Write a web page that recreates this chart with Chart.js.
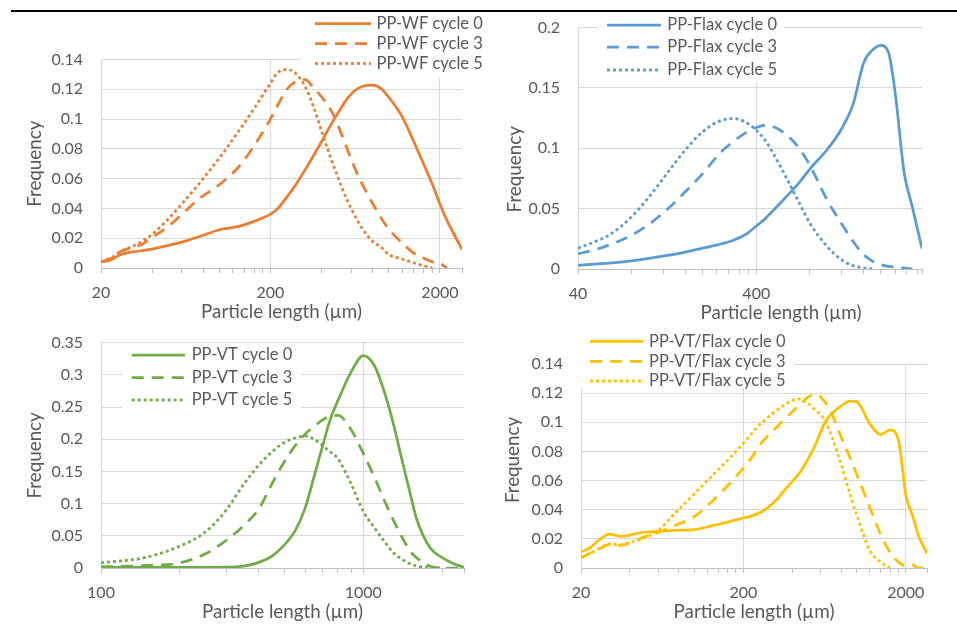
<!DOCTYPE html>
<html><head><meta charset="utf-8">
<script src="https://cdn.jsdelivr.net/npm/chart.js@4.4.1/dist/chart.umd.min.js"></script>
<style>
html,body{margin:0;padding:0;background:#fff;}
#wrap{position:relative;width:957px;height:624px;overflow:hidden;background:#fff;}
#wrap canvas{position:absolute;left:0;top:0;}
#rule{position:absolute;left:11px;top:10px;width:946px;height:2px;background:#000;z-index:5;}
</style></head><body>
<div id="wrap">
<canvas id="c1" width="957" height="624"></canvas>
<canvas id="c2" width="957" height="624"></canvas>
<canvas id="c3" width="957" height="624"></canvas>
<canvas id="c4" width="957" height="624"></canvas>
<div id="rule"></div>
</div>
<script>
// ---------- DATA ----------
const cycleNames = ['cycle 0', 'cycle 3', 'cycle 5'];

// PP-WF (top left)
const wfSizes  = [20, 23, 26, 30, 35, 40, 50, 60, 75, 100, 130, 160, 200, 220, 250, 280, 320, 360, 400, 450, 500, 560, 630, 700, 800, 900, 1000, 1200, 1400, 1600, 1800, 2000, 2200, 2400, 2700];
const wfCycle0 = [0.004, 0.0056, 0.0089, 0.0107, 0.0116, 0.0127, 0.0152, 0.0174, 0.0208, 0.0257, 0.0279, 0.0313, 0.0362, 0.0397, 0.0476, 0.0554, 0.0659, 0.0757, 0.0848, 0.0953, 0.104, 0.1127, 0.1192, 0.122, 0.1228, 0.1205, 0.1145, 0.1015, 0.085, 0.070, 0.0565, 0.043, 0.032, 0.0235, 0.0125];
const wfCycle3 = [0.004, 0.0065, 0.011, 0.0134, 0.016, 0.0205, 0.028, 0.036, 0.046, 0.056, 0.068, 0.082, 0.1, 0.109, 0.12, 0.125, 0.1265, 0.121, 0.115, 0.107, 0.096, 0.0815, 0.067, 0.0558, 0.0435, 0.0335, 0.026, 0.0167, 0.010, 0.0067, 0.0042, 0.003, 0, null, null];
const wfCycle5 = [0.004, 0.007, 0.011, 0.014, 0.018, 0.0225, 0.033, 0.043, 0.056, 0.074, 0.092, 0.107, 0.124, 0.131, 0.1333, 0.131, 0.122, 0.108, 0.092, 0.075, 0.061, 0.047, 0.035, 0.026, 0.018, 0.014, 0.009, 0.006, 0.0035, 0.0015, 0, null, null, null, null];

// PP-Flax (top right)
const flaxSizes  = [40, 50, 60, 80, 100, 130, 160, 200, 250, 300, 350, 400, 450, 500, 600, 700, 800, 1000, 1200, 1400, 1600, 1800, 2000, 2200, 2400, 2700, 3000, 3400];
const flaxCycle0 = [0.003, 0.0041, 0.0049, 0.0068, 0.0088, 0.0115, 0.014, 0.0173, 0.0205, 0.0241, 0.0288, 0.0356, 0.0419, 0.0488, 0.0611, 0.072, 0.083, 0.099, 0.1158, 0.137, 0.1707, 0.1816, 0.1852, 0.18, 0.147, 0.08, 0.0515, 0.017];
const flaxCycle3 = [0.0126, 0.016, 0.02, 0.028, 0.037, 0.051, 0.064, 0.079, 0.096, 0.106, 0.113, 0.1173, 0.119, 0.1178, 0.1104, 0.0995, 0.0858, 0.057, 0.0378, 0.0227, 0.0118, 0.0063, 0.0036, 0.0022, 0.0016, 0.0008, 0, null];
const flaxCycle5 = [0.0173, 0.0227, 0.0282, 0.0433, 0.0597, 0.0816, 0.0986, 0.1137, 0.1227, 0.1247, 0.1214, 0.115, 0.1063, 0.0953, 0.0734, 0.0542, 0.0378, 0.0186, 0.0077, 0.0027, 0.0008, 0, null, null, null, null, null, null];

// PP-VT (bottom left)
const vtSizes  = [100, 120, 150, 200, 250, 300, 350, 400, 450, 500, 550, 600, 650, 700, 750, 800, 900, 1000, 1100, 1200, 1300, 1400, 1500, 1600, 1800, 2000, 2200, 2420];
const vtCycle0 = [0.001, 0.001, 0.001, 0.001, 0.001, 0.0013, 0.003, 0.0088, 0.019, 0.036, 0.058, 0.093, 0.143, 0.19, 0.232, 0.26, 0.305, 0.33, 0.315, 0.275, 0.225, 0.17, 0.12, 0.075, 0.031, 0.016, 0.007, 0.001];
const vtCycle3 = [0.002, 0.0025, 0.004, 0.008, 0.022, 0.043, 0.066, 0.092, 0.132, 0.165, 0.19, 0.208, 0.22, 0.23, 0.236, 0.237, 0.2145, 0.178, 0.142, 0.106, 0.075, 0.049, 0.028, 0.0155, 0.0026, 0, 0, 0];
const vtCycle5 = [0.0085, 0.011, 0.017, 0.034, 0.056, 0.09, 0.13, 0.16, 0.181, 0.195, 0.202, 0.205, 0.2, 0.19, 0.18, 0.17, 0.13, 0.088, 0.063, 0.042, 0.024, 0.014, 0.007, 0.003, 0.0005, 0, null, null];

// PP-VT/Flax (bottom right)
const vfSizes  = [20, 23, 26, 30, 35, 40, 50, 60, 75, 100, 130, 160, 200, 220, 250, 280, 320, 360, 400, 450, 500, 560, 630, 700, 800, 900, 1000, 1200, 1400, 1600, 1800, 2000, 2200, 2400, 2700];
const vfCycle0 = [0.011, 0.0144, 0.0194, 0.0233, 0.0217, 0.0226, 0.0247, 0.0251, 0.0258, 0.0263, 0.0292, 0.0315, 0.0343, 0.0354, 0.0377, 0.0411, 0.0468, 0.0537, 0.0594, 0.0662, 0.0747, 0.0856, 0.099, 0.106, 0.1112, 0.1146, 0.114, 0.099, 0.0915, 0.0948, 0.088, 0.05, 0.036, 0.022, 0.01];
const vfCycle3 = [0.0069, 0.0103, 0.0132, 0.016, 0.0155, 0.0171, 0.0217, 0.0244, 0.029, 0.0354, 0.0464, 0.0564, 0.0685, 0.0742, 0.0838, 0.0902, 0.0966, 0.1023, 0.1073, 0.1126, 0.1172, 0.1194, 0.1145, 0.106, 0.0898, 0.0766, 0.064, 0.0415, 0.023, 0.0108, 0.004, 0.0015, 0.002, 0, 0];
const vfCycle5 = [0.0075, 0.0103, 0.0135, 0.0165, 0.016, 0.0175, 0.021, 0.026, 0.037, 0.051, 0.064, 0.074, 0.0856, 0.091, 0.098, 0.103, 0.108, 0.112, 0.115, 0.116, 0.113, 0.108, 0.102, 0.0904, 0.071, 0.052, 0.036, 0.012, 0.004, 0, null, null, null, null, null];

// axis tick labels (major decades shown)
const wfMajorTicks   = [20, 200, 2000];
const flaxMajorTicks = [40, 400];
const vtMajorTicks   = [100, 1000];
const vfMajorTicks   = [20, 200, 2000];

// ---------- STYLE ----------
const TEXT = '#595959';
const FONT = {family: 'Lato', size: 16};
const TITLE_FONT = {family: 'Lato', size: 18.8};
const DASHES = [[], [12, 8], [3, 3]];
Chart.defaults.font.family = 'Lato';
Chart.defaults.font.size = 16;
Chart.defaults.color = TEXT;

function decadeTicks(majors, max) {
  const out = [];
  majors.forEach(d => { for (let k = 1; k <= 9; k++) { const v = d * k; if (v <= max) out.push(v); } });
  out.push(max);
  return out;
}

const boxLegend = {
  id: 'boxLegend',
  afterDraw(chart, args, o) {
    const ctx = chart.ctx;
    ctx.save();
    ctx.fillStyle = '#fff';
    ctx.fillRect(o.rect[0], o.rect[1], o.rect[2], o.rect[3]);
    chart.data.datasets.forEach((ds, i) => {
      const y = o.rows[i];
      ctx.strokeStyle = ds.borderColor;
      ctx.lineWidth = ds.borderWidth;
      ctx.setLineDash(ds.borderDash || []);
      ctx.beginPath(); ctx.moveTo(o.x0, y); ctx.lineTo(o.x1, y); ctx.stroke();
      ctx.setLineDash([]);
      ctx.fillStyle = TEXT;
      ctx.font = '16.5px Lato';
      ctx.textBaseline = 'middle';
      ctx.textAlign = 'left';
      ctx.fillText(ds.label, o.tx, y);
    });
    ctx.restore();
  }
};

function shiftTitle(sc, dx, dy) {
  if (!dx && !dy) return;
  if (sc.__shifted) return;
  sc.__shifted = true;
  const orig = Object.getPrototypeOf(sc).drawTitle;
  sc.drawTitle = function () {
    const ctx = this.ctx; ctx.save(); ctx.translate(dx, dy); orig.call(this); ctx.restore();
  };
}

function makeChart(id, c) {
  const ticksX = decadeTicks(c.majors, c.xMax);
  const datasets = c.series.map((s, i) => ({
    label: c.name + ' ' + cycleNames[i],
    data: c.sizes.map((x, j) => ({x: x, y: s[j]})),
    borderColor: c.color,
    backgroundColor: c.color,
    borderWidth: 2.75,
    borderDash: DASHES[i],
    pointRadius: 0,
    cubicInterpolationMode: 'monotone',
    fill: false,
    spanGaps: false
  }));
  return new Chart(document.getElementById(id), {
    type: 'line',
    data: {datasets},
    plugins: [boxLegend],
    options: {
      responsive: false,
      animation: false,
      events: [],
      layout: {padding: c.pad},
      plugins: {
        legend: {display: false},
        tooltip: {enabled: false},
        boxLegend: c.legend
      },
      scales: {
        x: {
          type: 'logarithmic',
          min: c.xMin, max: c.xMax,
          afterBuildTicks: sc => { sc.ticks = ticksX.map(v => ({value: v})); },
          afterFit: sc => { sc.height = 55.3; shiftTitle(sc, c.xTitleShift[0], c.xTitleShift[1]); },
          ticks: {
            autoSkip: false, maxRotation: 0, minRotation: 0, padding: 10,
            font: FONT, color: TEXT,
            callback: v => c.majors.includes(v) ? String(v) : ''
          },
          grid: {
            color: ctx => (ctx.tick && c.majors.includes(ctx.tick.value)) ? '#d9d9d9' : 'rgba(0,0,0,0)',
            tickColor: '#bfbfbf', tickLength: 5, drawTicks: true, lineWidth: 1
          },
          border: {color: '#bfbfbf', width: 1},
          title: {display: true, text: 'Particle length (µm)', font: TITLE_FONT, color: TEXT, padding: 0}
        },
        y: {
          min: 0, max: c.yMax,
          afterFit: sc => { sc.width = c.yWidth; shiftTitle(sc, c.yTitleShift[0], c.yTitleShift[1]); },
          ticks: {stepSize: c.yStep, padding: 18, font: FONT, color: TEXT, callback: v => String(+v.toFixed(2))},
          grid: {color: '#d9d9d9', drawTicks: false, lineWidth: 1},
          border: {color: '#d9d9d9', width: 1},
          title: {display: true, text: 'Frequency', font: TITLE_FONT, color: TEXT, padding: 0}
        }
      }
    }
  });
}

makeChart('c1', {
  name: 'PP-WF', color: '#ED7D31', sizes: wfSizes, series: [wfCycle0, wfCycle3, wfCycle5],
  majors: wfMajorTicks, xMin: 20, xMax: 2700, yMax: 0.14, yStep: 0.02,
  pad: {left: 23.72, right: 495, top: 59.5, bottom: 300.7}, yWidth: 77.28,
  xTitleShift: [0, 0], yTitleShift: [0, 0],
  legend: {rect: [301, 13, 180, 65], x0: 315, x1: 371, tx: 376.5, rows: [23.5, 43.5, 63.5]}
});
makeChart('c2', {
  name: 'PP-Flax', color: '#5B9BD5', sizes: flaxSizes, series: [flaxCycle0, flaxCycle3, flaxCycle5],
  majors: flaxMajorTicks, xMin: 40, xMax: 3400, yMax: 0.2, yStep: 0.05,
  pad: {left: 503.42, right: 35, top: 26, bottom: 299.7}, yWidth: 74.58,
  xTitleShift: [31, 0], yTitleShift: [0, 21],
  legend: {rect: [598, 13, 185, 70], x0: 607, x1: 661, tx: 667.3, rows: [25, 47, 70]}
});
makeChart('c3', {
  name: 'PP-VT', color: '#70AD47', sizes: vtSizes, series: [vtCycle0, vtCycle3, vtCycle5],
  majors: vtMajorTicks, xMin: 100, xMax: 2420, yMax: 0.35, yStep: 0.05,
  pad: {left: 23.72, right: 493, top: 342.7, bottom: 0.7}, yWidth: 77.28,
  xTitleShift: [0, 0], yTitleShift: [0, 0],
  legend: {rect: [122, 346, 179, 72], x0: 131.7, x1: 185, tx: 191.7, rows: [355, 377.7, 400]}
});
makeChart('c4', {
  name: 'PP-VT/Flax', color: '#FFC000', sizes: vfSizes, series: [vfCycle0, vfCycle3, vfCycle5],
  majors: vfMajorTicks, xMin: 20, xMax: 2700, yMax: 0.14, yStep: 0.02,
  pad: {left: 501.72, right: 30, top: 364, bottom: 0.7}, yWidth: 79.28,
  xTitleShift: [0, 0], yTitleShift: [0, -6],
  legend: {rect: [581, 329, 213, 60], x0: 590, x1: 643.3, tx: 649, rows: [341.3, 361.3, 381]}
});
</script>
</body></html>
